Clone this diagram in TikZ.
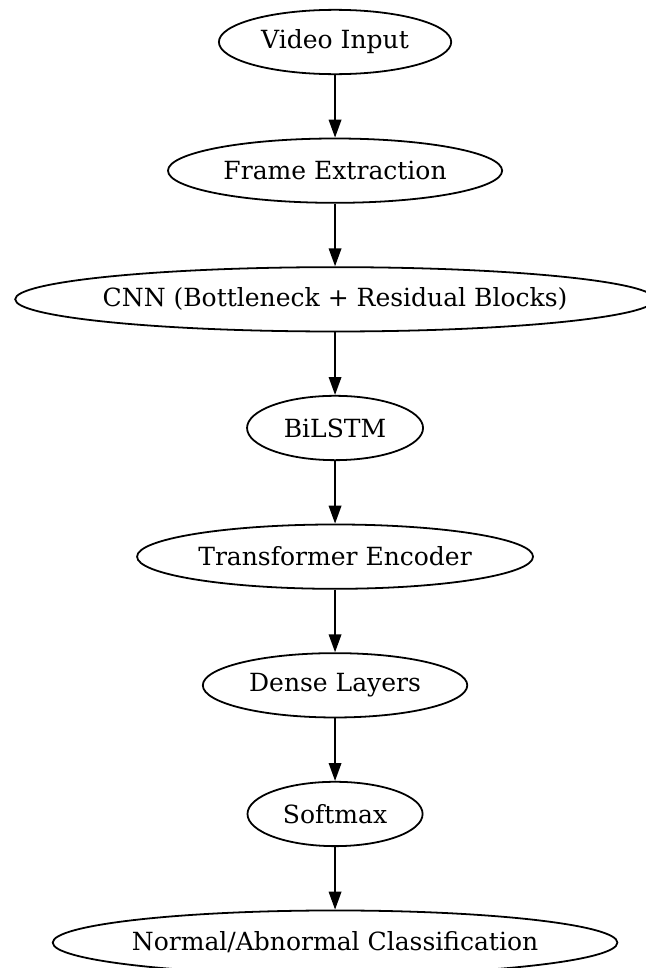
\documentclass[tikz,border=0pt]{standalone}
\usepackage{fontspec}
\setmainfont{DejaVu Serif}
\usetikzlibrary{shapes.geometric,arrows.meta}
\tikzset{
  gnode/.style={draw=black, line width=1pt, shape=ellipse, inner sep=0pt, minimum height=36pt, font=\fontsize{14}{16}\selectfont},
  garrow/.style={draw=black, line width=1pt, -{Triangle[length=10pt,width=7pt]}}
}
\newcommand{\zlab}[1]{\makebox[0pt]{#1}}
\begin{document}
\begin{tikzpicture}[x=1pt,y=-1pt]
\useasboundingbox (0,0) rectangle (361,541.7);
\node[gnode, minimum width=130pt] (vi) at (187.5,23.5) {\zlab{Video Input}};
\node[gnode, minimum width=187pt] (fe) at (187.5,95.5) {\zlab{Frame Extraction}};
\node[gnode, minimum width=358pt] (cnn) at (187.5,167.5) {\zlab{CNN (Bottleneck + Residual Blocks)}};
\node[gnode, minimum width=98.5pt] (bl) at (187.5,239.5) {\zlab{BiLSTM}};
\node[gnode, minimum width=221.6pt] (te) at (187.5,311.5) {\zlab{Transformer Encoder}};
\node[gnode, minimum width=148pt] (dl) at (187.5,383.5) {\zlab{Dense Layers}};
\node[gnode, minimum width=98pt] (sm) at (187.5,455.5) {\zlab{Softmax}};
\node[gnode, minimum width=316pt] (nc) at (187.5,527.5) {\zlab{Normal/Abnormal Classification}};
\draw[garrow] (vi) -- (fe);
\draw[garrow] (fe) -- (cnn);
\draw[garrow] (cnn) -- (bl);
\draw[garrow] (bl) -- (te);
\draw[garrow] (te) -- (dl);
\draw[garrow] (dl) -- (sm);
\draw[garrow] (sm) -- (nc);
\end{tikzpicture}
\end{document}
